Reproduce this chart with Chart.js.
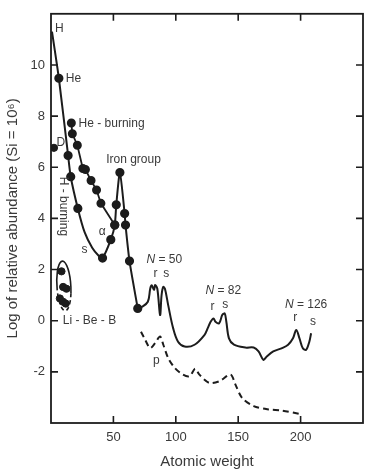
<!DOCTYPE html>
<html>
<head>
<meta charset="utf-8">
<script src="https://cdn.jsdelivr.net/npm/chart.js@4.4.0/dist/chart.umd.min.js"></script>
<style>
  html, body { margin: 0; padding: 0; background: #fff; }
  #wrap { width: 369px; height: 471px; }
</style>
</head>
<body>
<div id="wrap"><canvas id="myViz" width="369" height="471"></canvas></div>
<script>
// atomic weight / log abundance pairs
const hCurve = [[0.8, 11.3], [6.3, 9.48], [13.7, 6.46], [15.8, 5.63], [21.5, 4.39], [27, 3.45], [33, 2.85],
    [38, 2.55], [41.3, 2.45], [47.9, 3.17], [51.1, 3.74], [52.3, 4.53], [55.2, 5.79], [59, 4.19],
    [59.7, 3.74], [62.9, 2.33], [69.5, 0.48]];
const hCurveDots = [0, 1, 1, 1, 1, 0, 0, 0, 1, 1, 1, 1, 1, 1, 1, 1, 1];
const heBurning = [[16.3, 7.73], [17.1, 7.31], [21.1, 6.86], [25.5, 5.95], [27.6, 5.91], [32.1, 5.48],
    [36.5, 5.11], [40.0, 4.59], [51.1, 3.74]];
const deuterium = [[2.4, 6.76]];
const liBeB = [[8.4, 1.93], [9.7, 1.32], [12.4, 1.25], [7.1, 0.87], [9.7, 0.74], [11.8, 0.67]];
const rsCurve = [[69.5, 0.48], [72.8, 0.54], [77.6, 0.74], [79.5, 1.25], [80.7, 1.39], [82.6, 1.2],
    [83.4, 1.4], [85.2, 1.25], [87.4, 0.22], [88.6, 1.0], [89.9, 1.32], [91.3, 1.25], [93.9, 0.61],
    [97.9, -0.3], [101.8, -0.82], [107.1, -1.01], [115, -0.94], [122.9, -0.56], [125.5, -0.3],
    [127.9, -0.04], [130.2, 0.09], [131.8, -0.04], [134.7, -0.1], [137.3, 0.23], [139.2, 0.28],
    [140.5, -0.04], [142.6, -0.69], [146.6, -0.94], [155.7, -1.05], [162.4, -1.05], [166.3, -1.2],
    [170.2, -1.53], [172.9, -1.4], [178.1, -1.2], [184.7, -1.08], [190, -0.94], [193.9, -0.69],
    [196.5, -0.36], [199.1, -0.69], [201.8, -1.08], [204.4, -1.14], [207, -0.82], [208.4, -0.49]];
const pCurve = [[72.1, -0.43], [75.5, -0.75], [79.5, -1.07], [83.4, -0.88], [87.4, -0.62], [90, -0.94],
    [93.9, -1.46], [99.2, -1.85], [105.8, -2.11], [111, -2.17], [115.5, -1.88], [118.9, -2.11],
    [126.8, -2.43], [134.7, -2.37], [143.9, -2.11], [147.8, -2.5], [153.1, -3.02], [162.4, -3.34],
    [174.2, -3.47], [184.7, -3.51], [199.1, -3.64]];
const xTicks = [50, 100, 150, 200];
const yTicks = [-2, 0, 2, 4, 6, 8, 10];

// text notes on the plot: [text, atomic weight, log abundance, align]
const notes = [
    ['H', 3.2, 11.42, 'left'],
    ['He', 11.8, 9.48, 'left'],
    ['He - burning', 22.1, 7.69, 'left'],
    ['D', 4.5, 6.95, 'left'],
    ['Iron group', 44.2, 6.29, 'left'],
    ['s', 26.8, 2.76, 'center'],
    ['\u03b1', 41, 3.5, 'center'],
    ['r', 83.7, 1.83, 'center'],
    ['s', 92.3, 1.83, 'center'],
    ['r', 129.4, 0.54, 'center'],
    ['s', 139.7, 0.62, 'center'],
    ['r', 195.7, 0.1, 'center'],
    ['s', 210, -0.04, 'center'],
    ['p', 84.5, -1.55, 'center'],
    ['Li - Be - B', 9.5, 0, 'left'],
];
const shellNotes = [['50', 90.8, 2.37], ['82', 138.1, 1.17], ['126', 204.4, 0.62]];

const INK = '#1c1c1c';
const TEXT = '#3a3a3a';
const FONT = "'Liberation Sans', Arial, sans-serif";

const toPts = (arr) => arr.map((p) => ({ x: p[0], y: p[1] }));

const framePlugin = {
    id: 'frame',
    afterDraw(chart) {
        const { ctx, chartArea: a, scales } = chart;
        const xs = scales.x, ys = scales.y;
        ctx.save();
        ctx.strokeStyle = INK;
        ctx.lineWidth = 1.8;
        ctx.strokeRect(a.left, a.top, a.right - a.left, a.bottom - a.top);
        // inward tick marks on all four sides
        ctx.lineWidth = 1.6;
        ctx.beginPath();
        xTicks.forEach((v) => {
            const px = xs.getPixelForValue(v);
            ctx.moveTo(px, a.bottom); ctx.lineTo(px, a.bottom - 7);
            ctx.moveTo(px, a.top); ctx.lineTo(px, a.top + 7);
        });
        yTicks.forEach((v) => {
            const py = ys.getPixelForValue(v);
            ctx.moveTo(a.left, py); ctx.lineTo(a.left + 7, py);
            ctx.moveTo(a.right, py); ctx.lineTo(a.right - 7, py);
        });
        ctx.stroke();

        // Li-Be-B ellipse, solid top, dashed bottom
        const cx = xs.getPixelForValue(10.3), cy = ys.getPixelForValue(1.36);
        const rx = xs.getPixelForValue(10.3 + 5.6) - cx;
        const ry = cy - ys.getPixelForValue(1.36 + 0.97);
        ctx.lineWidth = 1.6;
        ctx.beginPath();
        ctx.ellipse(cx, cy, rx, ry, -0.06, Math.PI * 0.95, Math.PI * 2.1);
        ctx.stroke();
        ctx.setLineDash([4, 3]);
        ctx.beginPath();
        ctx.ellipse(cx, cy, rx, ry, -0.06, Math.PI * 0.1, Math.PI * 0.95);
        ctx.stroke();
        ctx.setLineDash([]);

        // notes
        ctx.fillStyle = TEXT;
        ctx.textBaseline = 'middle';
        ctx.font = '12px ' + FONT;
        notes.forEach((n) => {
            ctx.textAlign = n[3];
            ctx.fillText(n[0], xs.getPixelForValue(n[1]), ys.getPixelForValue(n[2]));
        });
        // N = shell labels with italic N
        shellNotes.forEach((n) => {
            ctx.font = '12px ' + FONT;
            const rest = ' = ' + n[0];
            const wRest = ctx.measureText(rest).width;
            ctx.font = 'italic 12px ' + FONT;
            const wN = ctx.measureText('N').width;
            const x0 = xs.getPixelForValue(n[1]) - (wN + wRest) / 2;
            const y0 = ys.getPixelForValue(n[2]);
            ctx.textAlign = 'left';
            ctx.fillText('N', x0, y0);
            ctx.font = '12px ' + FONT;
            ctx.fillText(rest, x0 + wN, y0);
        });
        // rotated H - burning
        ctx.save();
        ctx.translate(xs.getPixelForValue(9.5), ys.getPixelForValue(4.47));
        ctx.rotate(Math.PI / 2);
        ctx.textAlign = 'center';
        ctx.font = '12px ' + FONT;
        ctx.fillText('H - burning', 0, 0);
        ctx.restore();
        ctx.restore();
    },
};

const config = {
    type: 'scatter',
    plugins: [framePlugin],
    data: {
        datasets: [
            {
                data: toPts(hCurve),
                showLine: true,
                tension: 0.2,
                borderColor: INK,
                backgroundColor: INK,
                borderWidth: 2,
                pointRadius: hCurveDots.map((d) => (d ? 3.6 : 0)),
            },
            {
                data: toPts(heBurning),
                showLine: true,
                tension: 0,
                borderColor: INK,
                backgroundColor: INK,
                borderWidth: 1.8,
                pointRadius: 3.6,
            },
            {
                data: toPts(deuterium),
                backgroundColor: INK,
                borderColor: INK,
                pointRadius: 3.6,
            },
            {
                data: toPts(liBeB),
                backgroundColor: INK,
                borderColor: INK,
                pointRadius: 3.6,
            },
            {
                data: toPts(rsCurve),
                showLine: true,
                tension: 0.35,
                borderColor: INK,
                borderWidth: 2,
                pointRadius: 0,
            },
            {
                data: toPts(pCurve),
                showLine: true,
                tension: 0.3,
                borderColor: INK,
                borderWidth: 2,
                borderDash: [6, 4],
                pointRadius: 0,
            },
        ],
    },
    options: {
        responsive: false,
        animation: false,
        layout: { padding: { top: 12, right: 2, left: 0, bottom: 0 } },
        plugins: {
            legend: { display: false },
            tooltip: { enabled: false },
        },
        scales: {
            x: {
                type: 'linear',
                min: 0,
                max: 250,
                afterFit: (s) => { s.height = 48; },
                grid: { display: false, drawTicks: false },
                border: { display: false },
                afterBuildTicks: (s) => { s.ticks = xTicks.map((v) => ({ value: v })); },
                ticks: { color: TEXT, padding: 7, font: { size: 13, family: FONT } },
                title: {
                    display: true,
                    text: 'Atomic weight',
                    color: TEXT,
                    font: { size: 15, family: FONT },
                    padding: { top: 0, bottom: 0 },
                },
            },
            y: {
                type: 'linear',
                min: -4,
                max: 12,
                afterFit: (s) => { s.width = 51; },
                grid: { display: false, drawTicks: false },
                border: { display: false },
                afterBuildTicks: (s) => { s.ticks = yTicks.map((v) => ({ value: v })); },
                ticks: { color: TEXT, padding: 6, font: { size: 13, family: FONT } },
                title: {
                    display: true,
                    text: 'Log of relative abundance (Si = 10\u2076)',
                    color: TEXT,
                    font: { size: 15, family: FONT },
                    padding: { top: 4, bottom: 0 },
                },
            },
        },
    },
};

const ctx = document.getElementById('myViz').getContext('2d');
new Chart(ctx, config);
</script>
</body>
</html>
